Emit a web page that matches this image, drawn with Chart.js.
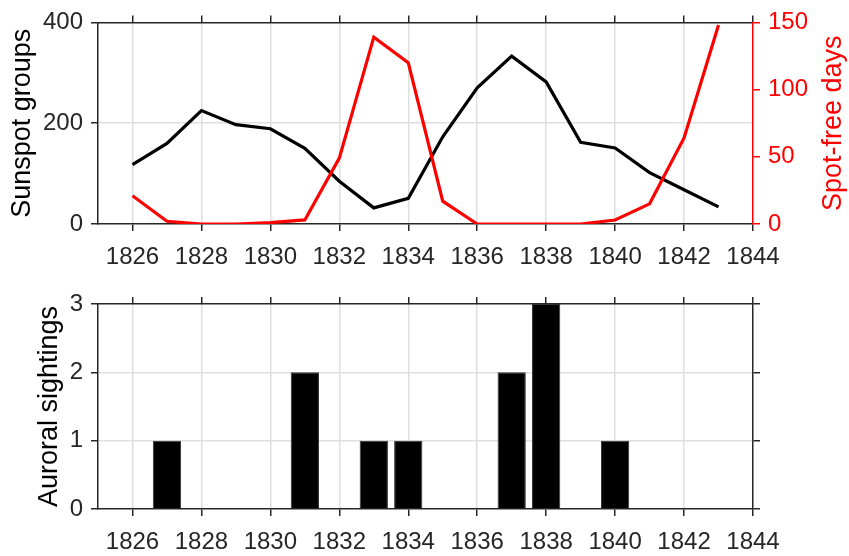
<!DOCTYPE html>
<html>
<head>
<meta charset="utf-8">
<script src="https://cdn.jsdelivr.net/npm/chart.js@4"></script>
<style>
  body { margin: 0; background: #fff; }
  #wrap { position: relative; width: 849px; height: 556px; }
  canvas { position: absolute; left: 0; }
  #topChart { top: 0; }
  #bottomChart { top: 280px; }
</style>
</head>
<body>
<div id="wrap">
  <canvas id="topChart" width="849" height="280"></canvas>
  <canvas id="bottomChart" width="849" height="276"></canvas>
</div>
<script>
// data
const years = [1826, 1827, 1828, 1829, 1830, 1831, 1832, 1833, 1834,
               1835, 1836, 1837, 1838, 1839, 1840, 1841, 1842, 1843];
const sunspotGroups = [118, 160, 225, 197, 189, 150, 85, 32, 51,
                       173, 270, 333, 282, 162, 151, 102, 68, 34];
const spotFreeDays = [21, 2, 0, 0, 1, 3, 49, 139, 120,
                      17, 0, 0, 0, 0, 3, 15, 64, 148];
const auroraYears = [1827, 1831, 1833, 1834, 1837, 1838, 1840];
const auroraCounts = [1, 2, 1, 1, 2, 3, 1];

const yearTicks = [1826, 1828, 1830, 1832, 1834, 1836, 1838, 1840, 1842, 1844];
const groupTicks = [0, 200, 400];
const freeTicks = [0, 50, 100, 150];
const countTicks = [0, 1, 2, 3];

const AXIS = "#262626";
const GRID = "#dfdfdf";
const RED = "#ff0000";
const FONT = "'Liberation Sans', Arial, Helvetica, sans-serif";
const TICK_SIZE = 24;
const TITLE_SIZE = 27;

Chart.defaults.font.family = FONT;
Chart.defaults.animation = false;

// no grey grid line on top of the box edges
function gridColor(c) {
  const v = c.tick ? c.tick.value : null;
  return (v === c.scale.min || v === c.scale.max) ? "rgba(0,0,0,0)" : GRID;
}
function setTicks(values) {
  return function (scale) {
    scale.ticks = values.map(v => ({ value: v }));
  };
}
function fixSize(prop, size) {
  return function (scale) {
    scale[prop] = size;
  };
}

function xAxis(position, size, showLabels) {
  return {
    type: "linear",
    position: position,
    min: 1825,
    max: 1844,
    offset: false,
    afterBuildTicks: setTicks(yearTicks),
    afterFit: fixSize("height", size),
    ticks: {
      display: showLabels,
      color: AXIS,
      font: { size: TICK_SIZE },
      padding: 12,
      maxRotation: 0,
      autoSkip: false,
      callback: v => String(v),
    },
    grid: {
      display: true,
      offset: false,
      drawOnChartArea: showLabels,
      color: gridColor,
      lineWidth: 1.5,
      tickColor: AXIS,
      tickWidth: 1.5,
      tickLength: 7,
    },
    border: { color: AXIS, width: 1.5 },
  };
}

function yAxis(position, min, max, values, color, title, titlePad, showLabels, showGrid) {
  const scale = {
    type: "linear",
    position: position,
    min: min,
    max: max,
    afterBuildTicks: setTicks(values),
    afterFit: fixSize("width", position === "left" ? 98 : 96),
    ticks: {
      display: showLabels,
      color: color,
      font: { size: TICK_SIZE },
      padding: 8,
      callback: v => String(v),
    },
    grid: {
      drawOnChartArea: showGrid,
      color: gridColor,
      lineWidth: 1.5,
      tickColor: color,
      tickWidth: 1.5,
      tickLength: 7,
    },
    border: { color: color, width: 1.5 },
  };
  if (title) {
    scale.title = {
      display: true,
      text: title,
      color: "#000",
      font: { size: TITLE_SIZE },
      padding: { top: titlePad, bottom: 0 },
    };
  }
  return scale;
}

// right hand title reads bottom to top like the left one
const rightTitle = {
  id: "rightTitle",
  afterDraw(chart) {
    const a = chart.chartArea;
    const ctx = chart.ctx;
    ctx.save();
    ctx.translate(chart.width - 15, (a.top + a.bottom) / 2);
    ctx.rotate(-Math.PI / 2);
    ctx.font = TITLE_SIZE + "px " + FONT;
    ctx.fillStyle = RED;
    ctx.textAlign = "center";
    ctx.textBaseline = "middle";
    ctx.fillText("Spot-free days", 0, 0);
    ctx.restore();
  },
};

const commonPlugins = {
  legend: { display: false },
  tooltip: { enabled: false },
};

// top panel: sunspot groups and spot-free days
new Chart(document.getElementById("topChart"), {
  type: "line",
  data: {
    datasets: [
      {
        label: "Sunspot groups",
        data: years.map((x, i) => ({ x: x, y: sunspotGroups[i] })),
        borderColor: "#000",
        borderWidth: 3.2,
        pointRadius: 0,
        tension: 0,
        yAxisID: "y",
        xAxisID: "x",
        order: 2,
      },
      {
        label: "Spot-free days",
        data: years.map((x, i) => ({ x: x, y: spotFreeDays[i] })),
        borderColor: RED,
        borderWidth: 3.2,
        pointRadius: 0,
        tension: 0,
        yAxisID: "y2",
        xAxisID: "x",
        order: 1,
      },
    ],
  },
  options: {
    responsive: false,
    devicePixelRatio: 1,
    layout: { padding: 0, autoPadding: false },
    plugins: commonPlugins,
    scales: {
      x: xAxis("bottom", 56, true),
      x2: xAxis("top", 18, false),
      y: yAxis("left", 0, 400, groupTicks, AXIS, "Sunspot groups", 6, true, true),
      y2: yAxis("right", 0, 150, freeTicks, RED, null, 0, true, false),
    },
  },
  plugins: [rightTitle],
});

// bottom panel: auroral sightings
new Chart(document.getElementById("bottomChart"), {
  type: "bar",
  data: {
    datasets: [
      {
        label: "Auroral sightings",
        data: auroraYears.map((x, i) => ({ x: x, y: auroraCounts[i] })),
        backgroundColor: "#000",
        borderColor: "#333",
        borderWidth: 1,
        barPercentage: 0.82,
        categoryPercentage: 1,
        xAxisID: "x",
        yAxisID: "y",
      },
    ],
  },
  options: {
    responsive: false,
    devicePixelRatio: 1,
    layout: { padding: 0, autoPadding: false },
    plugins: commonPlugins,
    scales: {
      x: xAxis("bottom", 47, true),
      x2: xAxis("top", 24, false),
      y: yAxis("left", 0, 3, countTicks, AXIS, "Auroral sightings", 33, true, true),
      y2: yAxis("right", 0, 3, countTicks, AXIS, null, 0, false, false),
    },
  },
});
</script>
</body>
</html>
